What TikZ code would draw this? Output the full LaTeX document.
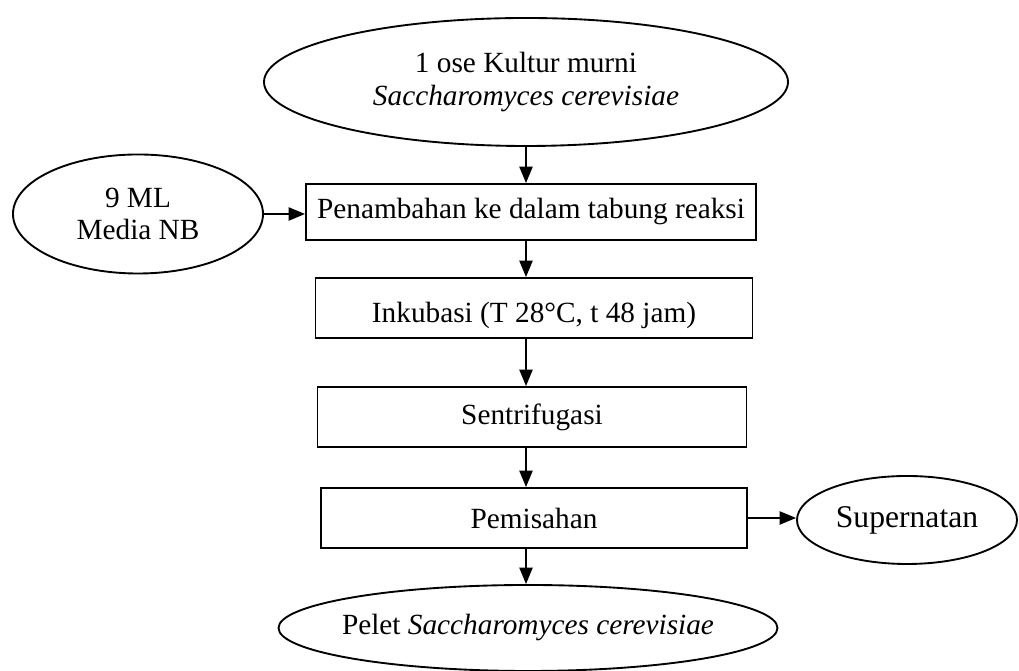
\documentclass[tikz,border=0pt]{standalone}
\usepackage{fontspec}
\setmainfont{Liberation Serif}
\usetikzlibrary{shapes.geometric, arrows.meta}

\begin{document}
\begin{tikzpicture}[
    x=0.015cm, y=-0.015cm,
    font=\fontsize{12.5}{14}\selectfont,
    procbox/.style={rectangle, draw=black, line width=0.8pt, inner sep=0pt, minimum height=0.9cm, align=center},
    termbox/.style={ellipse, draw=black, line width=0.8pt, inner sep=0pt, align=center},
    line/.style={draw, line width=0.8pt, -{Triangle[length=7pt, width=5.6pt]}}
  ]
    \useasboundingbox (0,0) rectangle (1019,671);
    % inputs
    \node (d0) [termbox, minimum width=7.86cm, minimum height=1.92cm] at (526,82) {1 ose Kultur murni\\\textit{Saccharomyces cerevisiae}};
    \node (dm) [termbox, minimum width=3.75cm, minimum height=1.785cm] at (138,214) {9 ML\\Media NB};
    % process steps
    \node (d1) [procbox, minimum width=6.75cm, minimum height=0.84cm] at (531,212) {Penambahan ke dalam tabung reaksi};
    \node (d2) [procbox, minimum width=6.555cm, text height=13pt, text depth=1pt] at (534,308) {Inkubasi (T 28°C, t 48 jam)};
    \node (d3) [procbox, minimum width=6.435cm] at (532,417) {Sentrifugasi};
    \node (d4) [procbox, minimum width=6.39cm] at (534,518) {Pemisahan};
    % outputs
    \node (ds) [termbox, minimum width=3.3cm, minimum height=1.32cm, font=\fontsize{13.5}{15}\selectfont] at (907,520) {Supernatan};
    \node (dp) [termbox, inner xsep=-10pt, minimum width=7.485cm, minimum height=1.29cm] at (528,628) {Pelet \textit{Saccharomyces cerevisiae}};

    \draw[line] (d0.south) -- (d0.south |- d1.north);
    \draw[line] (dm.east) -- (dm.east -| d1.west);
    \draw[line] (d0.south |- d1.south) -- (d0.south |- d2.north);
    \draw[line] (d0.south |- d2.south) -- (d0.south |- d3.north);
    \draw[line] (d0.south |- d3.south) -- (d0.south |- d4.north);
    \draw[line] (d4.east) -- (d4.east -| ds.west);
    \draw[line] (d0.south |- d4.south) -- (d0.south |- dp.north);
  \end{tikzpicture}
\end{document}
